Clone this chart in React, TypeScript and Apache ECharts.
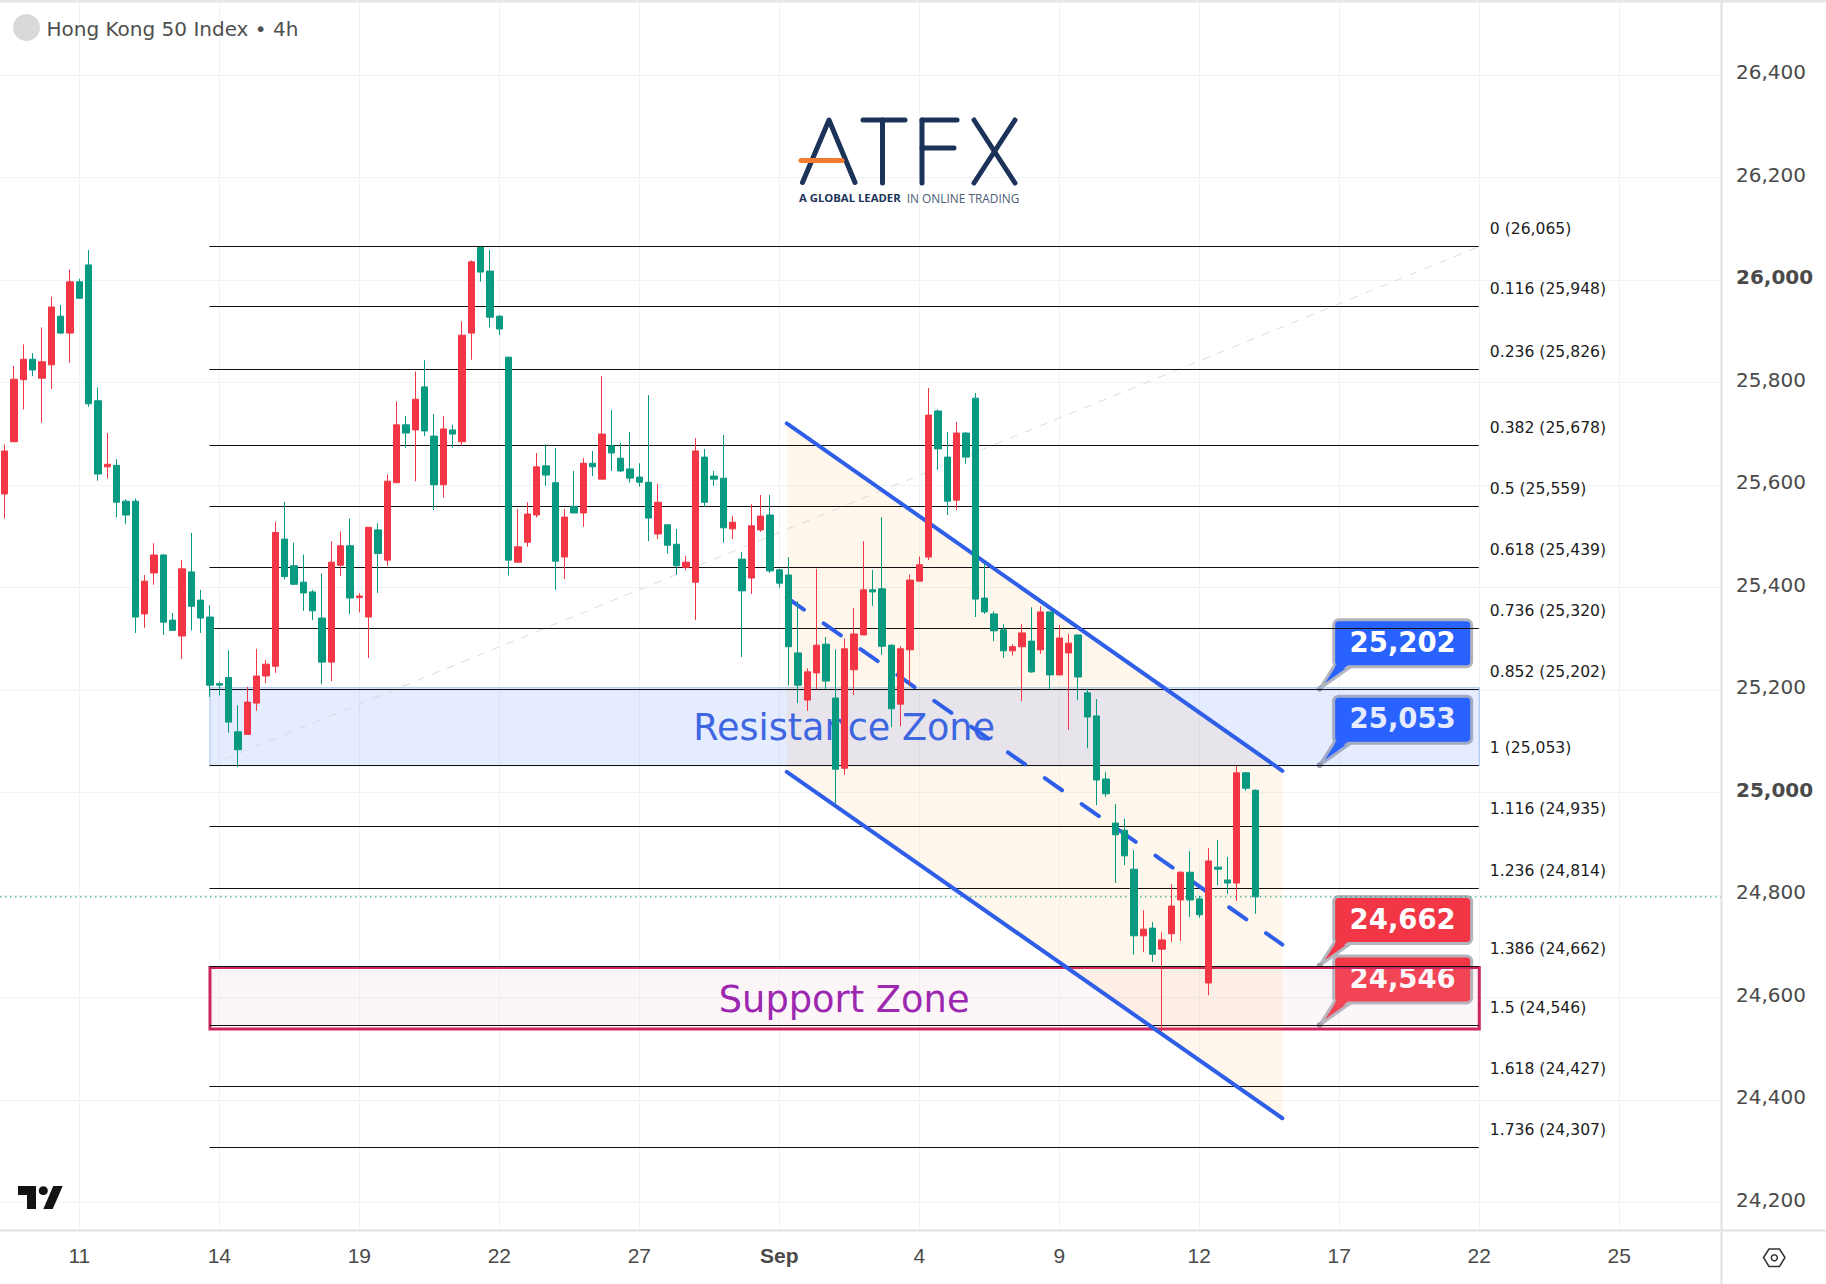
import React, { useEffect, useRef } from "react";
import * as echarts from "echarts";

const opens = [25582,25684,25805,25845,25808,25834,25929,25896,25996,26029,25764,25635,25638,25568,25568,25348,25428,25463,25336,25305,25430,25375,25342,25212,25224,25118,25113,25174,25227,25246,25494,25442,25410,25391,25340,25254,25443,25481,25380,25342,25512,25453,25604,25717,25707,25791,25695,25600,25707,25684,25896,26063,26017,25929,25849,25449,25488,25541,25637,25604,25459,25558,25545,25642,25611,25676,25652,25631,25615,25605,25504,25522,25484,25439,25410,25654,25617,25613,25514,25455,25418,25512,25541,25434,25424,25272,25180,25233,25289,25184,25047,25239,25307,25395,25397,25287,25172,25278,25412,25459,25744,25654,25570,25701,25769,25379,25348,25317,25276,25284,25295,25278,25352,25229,25272,25307,25194,25149,25026,24940,24926,24850,24720,24735,24694,24724,24790,24844,24792,24628,24854,24829,24823,25038,25004];
const closes = [25666,25806,25845,25824,25840,25947,25896,25996,25964,25758,25621,25640,25566,25541,25342,25412,25463,25332,25316,25436,25363,25340,25209,25209,25137,25083,25176,25227,25250,25507,25421,25406,25389,25354,25254,25449,25481,25379,25383,25517,25466,25607,25717,25701,25767,25705,25600,25709,25699,25892,26035,26015,25927,25904,25453,25479,25543,25635,25619,25451,25537,25545,25642,25635,25699,25662,25627,25613,25605,25535,25566,25482,25442,25449,25666,25566,25611,25516,25527,25393,25520,25539,25432,25408,25284,25209,25235,25287,25217,25045,25280,25309,25395,25391,25285,25163,25280,25414,25444,25736,25670,25568,25701,25654,25377,25352,25315,25276,25284,25311,25235,25352,25229,25301,25291,25225,25147,25024,24997,24917,24876,24720,24733,24684,24712,24778,24844,24790,24761,24866,24850,24823,25038,25008,24796];
const lows = [25534,25684,25747,25812,25721,25787,25894,25838,25963,25752,25608,25612,25537,25523,25311,25321,25405,25307,25316,25260,25316,25311,25186,25189,25116,25049,25113,25159,25213,25233,25415,25404,25354,25336,25211,25217,25422,25348,25351,25262,25389,25442,25604,25672,25607,25695,25551,25575,25672,25676,25844,25996,25907,25892,25423,25449,25479,25536,25598,25395,25416,25545,25518,25617,25611,25627,25625,25604,25596,25490,25494,25466,25424,25434,25336,25557,25598,25487,25494,25264,25387,25508,25428,25399,25209,25174,25159,25201,25201,24978,25034,25190,25307,25364,25268,25127,25129,25209,25412,25453,25629,25541,25551,25641,25342,25348,25295,25262,25267,25178,25233,25270,25201,25229,25122,25180,25086,24975,24991,24823,24858,24683,24688,24669,24534,24708,24710,24757,24755,24604,24819,24802,24788,25003,24763];
const highs = [25679,25832,25874,25857,25907,25967,25951,26020,26002,26058,25790,25701,25650,25572,25573,25424,25486,25465,25350,25453,25506,25395,25365,25216,25277,25170,25206,25280,25258,25528,25567,25487,25464,25395,25427,25490,25509,25534,25389,25517,25525,25620,25763,25734,25821,25843,25738,25734,25717,25919,26038,26065,26058,25931,25849,25553,25566,25662,25679,25672,25553,25627,25652,25666,25812,25746,25682,25703,25642,25775,25602,25522,25514,25461,25691,25670,25627,25697,25539,25469,25562,25580,25580,25436,25459,25373,25242,25436,25303,25279,25300,25360,25490,25434,25537,25289,25285,25425,25460,25789,25747,25703,25723,25703,25779,25447,25353,25328,25289,25328,25361,25363,25352,25326,25309,25308,25202,25182,25040,24977,24948,24887,24770,24747,24727,24821,24846,24885,24798,24891,24907,24874,25051,25039,25006];

const yTicks = [24200,24400,24600,24800,25000,25200,25400,25600,25800,26000,26200,26400];
const boldYTicks = [25000, 26000];
const xTickIndex = [8,23,38,53,68,83,98,113,128,143,158,173];
const xTickLabels = ["11","14","19","22","27","Sep","4","9","12","17","22","25"];

const fibRatios = ["0","0.116","0.236","0.382","0.5","0.618","0.736","0.852","1","1.116","1.236","1.386","1.5","1.618","1.736"];
const fibLevels = [26065,25948,25826,25678,25559,25439,25320,25202,25053,24935,24814,24662,24546,24427,24307];
const fibSpan = [22, 158];
const lastPrice = 24796;

const resistanceZone = [25204, 25052];
const supportZone = [24658, 24538];
const channelSpan = [83.8, 136.9];
const channelUpper = [25720, 25042];
const channelLower = [25040, 24364];
const channelMiddle = [25380, 24703];
const calloutValues = [25202, 25053, 24662, 24546];

const FONT = '"DejaVu Sans"';
const BLUE = "#2962ff";
const RED = "#f23645";
const GREEN = "#089981";
const CHANNEL = "#2f5fe8";
const fmt = (v: number) => v.toLocaleString("en-US");

type Draw = (row: any, api: any, index: number) => any;
const overlay = (name: string, rows: any[], z: number, draw: Draw) => ({
  type: "custom",
  name,
  z,
  silent: true,
  data: rows,
  encode: { x: 0, y: 1 },
  renderItem: (p: any, api: any) => draw(rows[p.dataIndex], api, p.dataIndex),
});

const lineEl = (a: number[], b: number[], style: any) => ({
  type: "line",
  shape: { x1: a[0], y1: a[1], x2: b[0], y2: b[1] },
  style: { fill: null, ...style },
});

const zoneRect = (zone: number[], style: any): Draw => (_r, api) => {
  const a = api.coord([fibSpan[0], zone[0]]);
  const b = api.coord([fibSpan[1], zone[1]]);
  return { type: "rect", shape: { x: a[0], y: a[1], width: b[0] - a[0], height: b[1] - a[1] }, style };
};

const navy = "#1b3358";
const logoStrokes = [
  [[802.5,182.5],[829,120],[855,182.5]],
  [[863,120],[905,120]],
  [[882.5,120],[882.5,183]],
  [[922,120],[957,120]],
  [[922,120],[922,183]],
  [[922,148],[954,148]],
  [[974,120],[1015,183]],
  [[1015,120],[974,183]],
];

const buildOption = () => ({
  animation: false,
  backgroundColor: "#ffffff",
  grid: { left: 0, top: 2, width: 1721, height: 1228.3 },
  xAxis: {
    type: "value",
    min: -0.5,
    max: 183.9,
    axisLine: { show: false },
    axisTick: { show: false, customValues: xTickIndex },
    splitLine: { show: true, lineStyle: { color: "#f1f2f5", width: 1 } },
    axisLabel: {
      customValues: xTickIndex,
      margin: 15,
      color: "#4a4a4a",
      fontFamily: '"Liberation Sans"',
      fontSize: 21,
      formatter: (v: number) => {
        const t = xTickLabels[xTickIndex.indexOf(v)];
        return t === "Sep" ? "{b|Sep}" : t;
      },
      rich: { b: { fontWeight: "bold", fontFamily: '"Liberation Sans"', fontSize: 21, color: "#4a4a4a" } },
    },
  },
  yAxis: {
    type: "value",
    position: "right",
    min: 24145.4,
    max: 26542,
    axisLine: { show: false },
    axisTick: { show: false, customValues: yTicks },
    splitLine: { show: true, lineStyle: { color: "#f1f2f5", width: 1 } },
    axisLabel: {
      customValues: yTicks,
      margin: 15,
      color: "#4a4a4a",
      fontFamily: FONT,
      fontSize: 20,
      padding: [0, 0, 5, 0],
      formatter: (v: number) => (boldYTicks.includes(v) ? `{b|${fmt(v)}}` : fmt(v)),
      rich: { b: { fontWeight: "bold", fontFamily: FONT, fontSize: 20, color: "#4a4a4a" } },
    },
  },
  series: [
    overlay("callouts", calloutValues, 2, (v: number, api: any, i: number) => {
      const p = api.coord([140.9, v]);
      const color = i < 2 ? BLUE : RED;
      const x = p[0] + 14;
      const y = p[1] - 69;
      return {
        type: "group",
        children: [
          { type: "polygon", shape: { points: [[p[0], p[1]], [p[0] + 14, p[1] - 22], [p[0] + 31, p[1] - 22]] }, style: { fill: color, stroke: "#b2b5be", lineWidth: 3 } },
          { type: "rect", shape: { x, y, width: 138, height: 47, r: 5 }, style: { fill: color, stroke: "#b2b5be", lineWidth: 3 } },
          { type: "polygon", shape: { points: [[p[0] + 12, p[1] - 12], [p[0] + 16, p[1] - 24], [p[0] + 29, p[1] - 24]] }, style: { fill: color } },
          { type: "circle", shape: { cx: p[0], cy: p[1], r: 3 }, style: { fill: "#9aa0ab" } },
          { type: "text", style: { text: fmt(v), x: x + 69, y: p[1] - 47, align: "center", verticalAlign: "middle", fill: "#ffffff", fontFamily: FONT, fontWeight: "bold", fontSize: 27.5 } },
        ],
      };
    }),
    overlay("Resistance Zone", [[fibSpan[0], resistanceZone[0]]], 3,
      zoneRect(resistanceZone, { fill: "rgba(41,98,255,0.12)", stroke: "#9cc6e8", lineWidth: 1 })),
    overlay("Support Zone", [[fibSpan[0], supportZone[0]]], 3,
      zoneRect(supportZone, { fill: "rgba(240,180,205,0.12)", stroke: "#cc2560", lineWidth: 3 })),
    overlay("channel fill", [[channelSpan[0], channelUpper[0]]], 4, (_r, api) => ({
      type: "polygon",
      shape: {
        points: [
          api.coord([channelSpan[0], channelUpper[0]]),
          api.coord([channelSpan[1], channelUpper[1]]),
          api.coord([channelSpan[1], channelLower[1]]),
          api.coord([channelSpan[0], channelLower[0]]),
        ],
      },
      style: { fill: "rgba(255,152,0,0.08)" },
    })),
    overlay("last price", [[fibSpan[0], lastPrice]], 5, (_r, api) =>
      lineEl(api.coord([-0.5, lastPrice]), api.coord([183.9, lastPrice]), { stroke: GREEN, lineWidth: 1, lineDash: [1.5, 3.5] })),
    overlay("fib trend", [[fibSpan[0], fibLevels[8]]], 5, (_r, api) =>
      lineEl(api.coord([fibSpan[0], fibLevels[8]]), api.coord([fibSpan[1], fibLevels[0]]), { stroke: "#d9dbe0", lineWidth: 1, lineDash: [8, 8] })),
    overlay("fib levels", fibLevels.map((v) => [fibSpan[0], v]), 6, (r, api, i) => {
      const a = api.coord([fibSpan[0], r[1]]);
      const b = api.coord([fibSpan[1], r[1]]);
      const y = Math.round(a[1]) + 0.5;
      return {
        type: "group",
        children: [
          lineEl([a[0] - 0.5, y], [b[0] - 0.5, y], { stroke: "#111111", lineWidth: 1 }),
          { type: "text", style: { text: `${fibRatios[i]} (${fmt(r[1])})`, x: b[0] + 10.5, y: y - 17.5, align: "left", verticalAlign: "middle", fill: "#1c1c1c", fontFamily: FONT, fontSize: 15.6 } },
        ],
      };
    }),
    overlay("zone labels", [[fibSpan[0], resistanceZone[1]], [fibSpan[0], supportZone[1]]], 7, (_r, api, i) => {
      const zone = i === 0 ? resistanceZone : supportZone;
      const c = api.coord([(fibSpan[0] + fibSpan[1]) / 2, (zone[0] + zone[1]) / 2]);
      return {
        type: "text",
        style: { text: i === 0 ? "Resistance Zone" : "Support Zone", x: c[0] - 0.5, y: c[1] + 1, align: "center", verticalAlign: "middle", fill: i === 0 ? "#3d66e0" : "#9c27b0", fontFamily: FONT, fontSize: i === 0 ? 36.6 : 36.8 },
      };
    }),
    overlay("channel", [[channelSpan[0], channelUpper[0]]], 8, (_r, api) => {
      const stroke = { stroke: CHANNEL, lineWidth: 4, lineCap: "round" };
      return {
        type: "group",
        children: [
          lineEl(api.coord([channelSpan[0], channelUpper[0]]), api.coord([channelSpan[1], channelUpper[1]]), stroke),
          lineEl(api.coord([channelSpan[0], channelLower[0]]), api.coord([channelSpan[1], channelLower[1]]), stroke),
          lineEl(api.coord([channelSpan[0], channelMiddle[0]]), api.coord([channelSpan[1], channelMiddle[1]]), { ...stroke, lineDash: [21, 24] }),
        ],
      };
    }),
    {
      type: "candlestick",
      name: "Hong Kong 50 Index",
      z: 10,
      silent: true,
      clip: false,
      barWidth: 7,
      encode: { x: 0, y: [1, 2, 3, 4] },
      data: opens.map((o, i) => [i, o, closes[i], lows[i], highs[i]]),
      itemStyle: { color: RED, color0: GREEN, borderColor: RED, borderColor0: GREEN, borderWidth: 1 },
    },
  ],
  graphic: [
    { type: "rect", z: 20, shape: { x: 0, y: 0, width: 1826, height: 2.5 }, style: { fill: "#e4e6ea" } },
    { type: "circle", z: 20, shape: { cx: 26.5, cy: 27.5, r: 13.5 }, style: { fill: "#d9d9d9" } },
    { type: "text", z: 20, style: { text: "Hong Kong 50 Index • 4h", x: 46.5, y: 28.5, verticalAlign: "middle", fill: "#4f4f4f", fontFamily: FONT, fontSize: 20 } },
    { type: "line", z: 20, shape: { x1: 0, y1: 1230.5, x2: 1826, y2: 1230.5 }, style: { stroke: "#e0e1e5", lineWidth: 2 } },
    { type: "line", z: 20, shape: { x1: 1721.5, y1: 0, x2: 1721.5, y2: 1284 }, style: { stroke: "#e0e1e5", lineWidth: 2 } },
    ...logoStrokes.map((points) => ({ type: "polyline", z: 20, shape: { points }, style: { fill: null, stroke: navy, lineWidth: 5, lineCap: "round", lineJoin: "round" } })),
    { type: "line", z: 21, shape: { x1: 801, y1: 160.5, x2: 842, y2: 160.5 }, style: { stroke: "#f47b32", lineWidth: 5, lineCap: "round" } },
    { type: "text", z: 20, style: { text: "A GLOBAL LEADER", x: 799, y: 197.5, verticalAlign: "middle", fill: navy, fontFamily: '"Open Sans"', fontWeight: "bold", fontSize: 11.3 } },
    { type: "text", z: 20, style: { text: "IN ONLINE TRADING", x: 906.7, y: 197.5, verticalAlign: "middle", fill: "#4c5d78", fontFamily: '"Open Sans"', fontSize: 11.9 } },
    { type: "polygon", z: 20, shape: { points: [[18,1186],[36,1186],[36,1209],[27,1209],[27,1195],[18,1195]] }, style: { fill: "#131313" } },
    { type: "circle", z: 20, shape: { cx: 43.3, cy: 1190.7, r: 4.5 }, style: { fill: "#131313" } },
    { type: "polygon", z: 20, shape: { points: [[53.3,1186],[62.7,1186],[52.7,1209],[43.3,1209]] }, style: { fill: "#131313" } },
    { type: "polygon", z: 20, shape: { points: [[1763.5,1257.5],[1769,1249],[1779.5,1249],[1785,1257.5],[1779.5,1266.5],[1769,1266.5]] }, style: { fill: null, stroke: "#333333", lineWidth: 1.5 } },
    { type: "circle", z: 20, shape: { cx: 1774.3, cy: 1257.7, r: 3 }, style: { fill: null, stroke: "#333333", lineWidth: 1.5 } },
  ],
});

export default function App() {
  const ref = useRef<HTMLDivElement>(null);
  useEffect(() => {
    const chart = echarts.init(ref.current!, null, { renderer: "svg" });
    chart.setOption(buildOption() as any);
    return () => chart.dispose();
  }, []);
  return <div ref={ref} style={{ position: "fixed", left: 0, top: 0, width: 1826, height: 1284 }} />;
}
